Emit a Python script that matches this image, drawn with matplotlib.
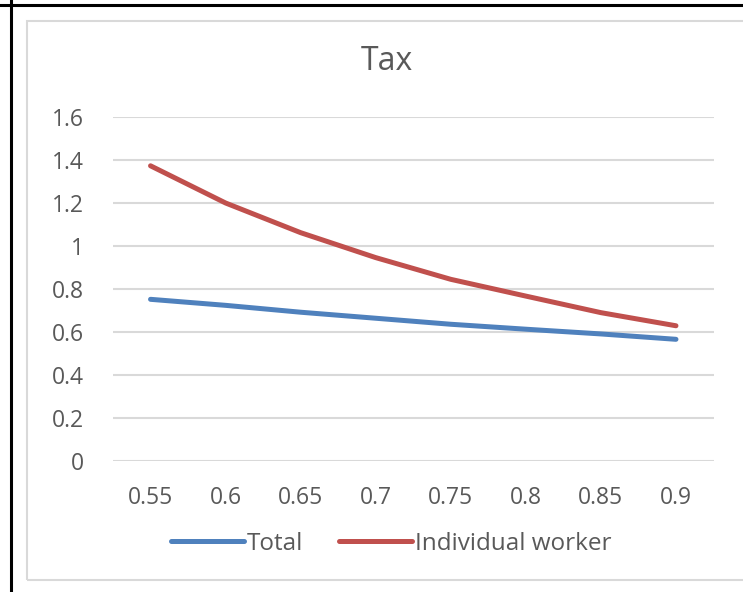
import matplotlib
matplotlib.use("Agg")
import matplotlib.pyplot as plt
from matplotlib.lines import Line2D
from matplotlib.patches import Rectangle

categories = ["0.55", "0.6", "0.65", "0.7", "0.75", "0.8", "0.85", "0.9"]
total = [0.752, 0.724, 0.692, 0.664, 0.636, 0.613, 0.591, 0.566]
individual = [1.373, 1.200, 1.062, 0.946, 0.845, 0.767, 0.690, 0.629]
yticks = [0, 0.2, 0.4, 0.6, 0.8, 1.0, 1.2, 1.4, 1.6]
ytick_labels = ["0", "0.2", "0.4", "0.6", "0.8", "1", "1.2", "1.4", "1.6"]
title = "Tax"
series_names = ["Total", "Individual worker"]

W, H = 743, 592
fig = plt.figure(figsize=(W / 100, H / 100), dpi=100)
fig.patch.set_facecolor("white")
plt.rcParams["font.family"] = ["Open Sans", "DejaVu Sans"]
txt = "#595959"
grid = "#D9D9D9"
blue = "#4F81BD"
red = "#C0504D"

# outer decorations: black table lines and gray chart frame
fig.add_artist(Line2D([0, 1], [1 - 5 / H, 1 - 5 / H], transform=fig.transFigure,
                      color="black", lw=2.2))
fig.add_artist(Line2D([11 / W, 11 / W], [0, 1], transform=fig.transFigure,
                      color="black", lw=2.2))
fig.add_artist(Rectangle((27 / W, 1 - 580 / H), (W + 5 - 27) / W, (580 - 21) / H,
                         transform=fig.transFigure, fill=False, edgecolor=grid, lw=1.5))

left, right, top, bottom = 113, 713.5, 117, 461
ax = fig.add_axes([left / W, 1 - bottom / H, (right - left) / W, (bottom - top) / H])
x = list(range(len(categories)))
ax.plot(x, total, color=blue, lw=3.6, solid_capstyle="round", solid_joinstyle="round",
        label=series_names[0], zorder=3)
ax.plot(x, individual, color=red, lw=3.6, solid_capstyle="round", solid_joinstyle="round",
        label=series_names[1], zorder=3)

ax.set_xlim(-0.5, len(categories) - 0.5)
ax.set_ylim(0, 1.6)
ax.set_yticks(yticks)
ax.set_yticklabels(ytick_labels)
ax.set_xticks(x)
ax.set_xticklabels(categories)
for s in ax.spines.values():
    s.set_visible(False)
ax.grid(axis="y", color=grid, lw=1.5, zorder=0)
ax.set_axisbelow(True)
ax.tick_params(axis="both", length=0, colors=txt, labelsize=16.5)
ax.tick_params(axis="y", pad=21)
ax.tick_params(axis="x", pad=18)

fig.text(387 / W, 1 - 62 / H, title, ha="center", va="center", fontsize=23, color=txt)

leg = fig.legend(loc="center", bbox_to_anchor=(391 / W, 1 - 544 / H), ncol=2, frameon=False,
                 handlelength=3.0, handletextpad=0.1, columnspacing=1.5, fontsize=17.5)
for t in leg.get_texts():
    t.set_color(txt)

fig.savefig("out.png", dpi=100, facecolor="white")
